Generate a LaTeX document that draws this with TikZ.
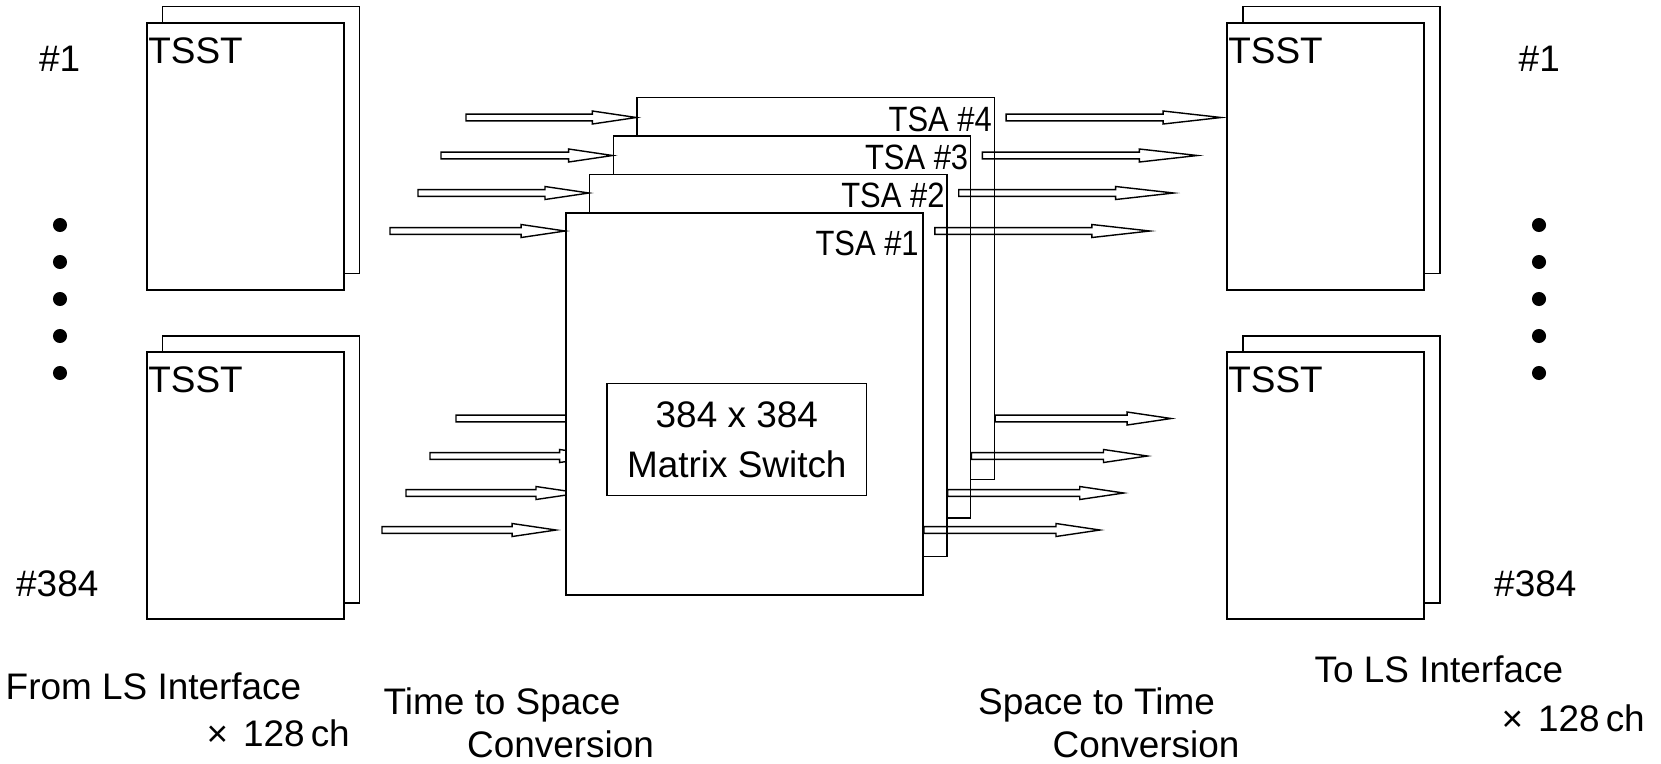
\documentclass[tikz,border=0pt]{standalone}
\usepackage{fontspec}
\setmainfont{Liberation Sans}
\usepackage{graphicx}
\usetikzlibrary{calc}
\newcommand{\hollowarrow}[3][12.5pt]{%
  \draw[hollow] let \p1=(#2), \p2=(#3) in
    (\x1,\y1+0.95pt) -- (\x2-#1,\y1+0.95pt) -- (\x2-#1,\y1+1.85pt) -- (\x2,\y1)
    -- (\x2-#1,\y1-1.85pt) -- (\x2-#1,\y1-0.95pt) -- (\x1,\y1-0.95pt) -- cycle;}
\newcommand{\narrowtext}[1]{\scalebox{0.88}[1]{#1}}

\begin{document}
\begin{tikzpicture}[
  x=0.01cm, y=-0.01cm,
  font=\fontsize{10.5}{14.2}\selectfont,
  every node/.style={inner sep=0pt},
  tsst/.style={draw, fill=white, line width=0.45pt, minimum width=1.97cm, minimum height=2.67cm},
  tsa/.style={draw, fill=white, line width=0.45pt, minimum width=3.57cm, minimum height=3.82cm},
  tsalabel/.style={anchor=base east, font=\fontsize{10}{12}\selectfont},
  hollow/.style={line width=0.4pt, line join=miter},
  dot/.style={circle, fill, minimum size=4pt},
  txt/.style={anchor=base west}
]
  \useasboundingbox (0,0) rectangle (1661,763);
  \node[tsst] (ltb) at (261,140) {};
  \node[tsst] (lt)  at (245.5,156.5) {};
  \node[tsst] (lbb) at (261,469.5) {};
  \node[tsst] (lb)  at (245.5,485.5) {};
  \node[tsst] (rtb) at (1341.5,140) {};
  \node[tsst] (rt)  at (1325.5,156.5) {};
  \node[tsst] (rbb) at (1341.5,469.5) {};
  \node[tsst] (rb)  at (1325.5,485.5) {};
  \node[txt] (ltx) at ($(lt.north west)+(1.5,41)$) {TSST};
  \node[txt] (lbx) at ($(lb.north west)+(1.5,41)$) {TSST};
  \node[txt] (rtx) at ($(rt.north west)+(1.5,41)$) {TSST};
  \node[txt] (rbx) at ($(rb.north west)+(1.5,41)$) {TSST};

  \coordinate (a4) at (466,117.5);
  \coordinate (a3) at (441,155.5);
  \coordinate (a2) at (418,193);
  \coordinate (a1) at (390,231);
  \coordinate (b4) at (456,418.5);
  \coordinate (b3) at (430,456);
  \coordinate (b2) at (406,493);
  \coordinate (b1) at (382,530);

  \node[tsa] (t4) at (815.7,288.5) {};
  \node[tsalabel] (l4) at ($(t4.north east)+(-2.5,34.5)$) {\narrowtext{TSA \#4}};
  \hollowarrow{a4}{t4.west |- a4}
  \hollowarrow{b4}{$(t4.west |- b4)+(-9,0)$}
  \hollowarrow[16.5pt]{$(t4.east |- a4)+(11,0)$}{$(t4.east |- a4)+(226,0)$}
  \hollowarrow{t4.east |- b4}{$(t4.east |- b4)+(176,0)$}

  \node[tsa] (t3) at (792,327) {};
  \node[tsalabel] (l3) at ($(t3.north east)+(-2.5,34)$) {\narrowtext{TSA \#3}};
  \hollowarrow{a3}{t3.west |- a3}
  \hollowarrow{b3}{$(t3.west |- b3)+(-9,0)$}
  \hollowarrow[16.5pt]{$(t3.east |- a3)+(11,0)$}{$(t3.east |- a3)+(226,0)$}
  \hollowarrow{t3.east |- b3}{$(t3.east |- b3)+(176,0)$}

  \node[tsa] (t2) at (768.3,365.5) {};
  \node[tsalabel] (l2) at ($(t2.north east)+(-2.5,34)$) {\narrowtext{TSA \#2}};
  \hollowarrow{a2}{t2.west |- a2}
  \hollowarrow{b2}{$(t2.west |- b2)+(-9,0)$}
  \hollowarrow[16.5pt]{$(t2.east |- a2)+(11,0)$}{$(t2.east |- a2)+(226,0)$}
  \hollowarrow{t2.east |- b2}{$(t2.east |- b2)+(176,0)$}

  \node[tsa] (t1) at (744.5,404) {};
  \node[tsalabel] (l1) at ($(t1.north east)+(-4.5,43)$) {\narrowtext{TSA \#1}};
  \hollowarrow{a1}{t1.west |- a1}
  \hollowarrow{b1}{$(t1.west |- b1)+(-9,0)$}
  \hollowarrow[16.5pt]{$(t1.east |- a1)+(11,0)$}{$(t1.east |- a1)+(226,0)$}
  \hollowarrow{t1.east |- b1}{$(t1.east |- b1)+(176,0)$}

  \node[draw, line width=0.45pt, align=center, minimum width=2.595cm, minimum height=1.123cm] (mx) at (736.8,439.5) {384 x 384\\Matrix Switch};

  \node[dot] (ld1) at (60,225) {};
  \node[dot] (ld2) at (60,262) {};
  \node[dot] (ld3) at (60,299) {};
  \node[dot] (ld4) at (60,336) {};
  \node[dot] (ld5) at (60,373) {};
  \node[dot] (rd1) at (1539,225) {};
  \node[dot] (rd2) at (1539,262) {};
  \node[dot] (rd3) at (1539,299) {};
  \node[dot] (rd4) at (1539,336) {};
  \node[dot] (rd5) at (1539,373) {};
  \node[txt] (ln1)   at (38.5,71) {\#1};
  \node[txt] (ln384) at (15.5,596.5) {\#384};
  \node[txt] (rn1)   at (1518,71) {\#1};
  \node[txt] (rn384) at (1493.5,596.5) {\#384};

  \node[txt] (from)   at (5,699.5) {From LS Interface};
  \node[txt] (fromch) at (206,746.5) {×\hspace{0.4em}128\,ch};
  \node[txt] (ts1)    at (383,714) {Time to Space};
  \node[txt] (ts2)    at (466.5,757) {Conversion};
  \node[txt] (st1)    at (977.5,714) {Space to Time};
  \node[txt] (st2)    at (1052,757) {Conversion};
  \node[txt] (to)     at (1314,682) {To LS Interface};
  \node[txt] (toch)   at (1501,731) {×\hspace{0.4em}128\,ch};
\end{tikzpicture}
\end{document}
